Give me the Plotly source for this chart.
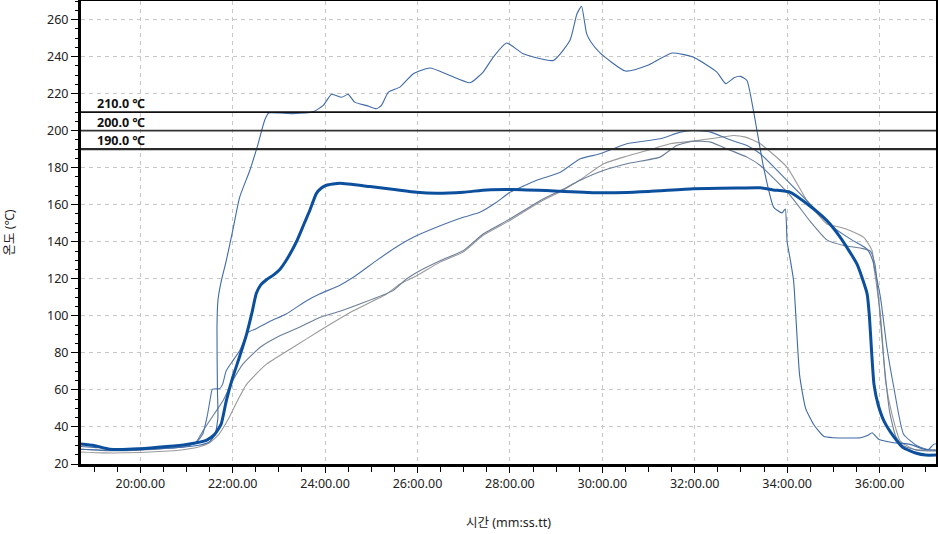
import plotly.graph_objects as go

# time in minutes, temperature in deg C
A_t = [18.71, 19.3, 20.0, 20.6, 21.0, 21.3, 21.5, 21.62, 21.68, 21.67, 21.66, 21.68, 21.73, 21.79, 21.86, 22.0, 22.15, 22.37, 22.55, 22.69,
       22.78, 23.0, 23.3, 23.74, 23.96, 24.14, 24.36, 24.5, 24.64, 24.9, 25.11, 25.22, 25.37, 25.62, 25.91, 26.27, 26.70, 27.14, 27.42,
       27.64, 27.93, 28.29, 28.94, 29.30, 29.45, 29.55, 29.62, 29.66, 29.75, 29.95, 30.5, 31.0, 31.51, 31.97, 32.48, 32.67, 32.85, 32.99,
       33.13, 33.27, 33.49, 33.71, 33.89, 33.96, 34.0, 34.07, 34.14, 34.2, 34.27, 34.4, 34.57, 34.79, 35.0, 35.59, 35.75, 35.84, 35.98,
       36.31, 36.66, 36.96, 37.07, 37.17, 37.23]
A_v = [28.0, 27.5, 27.8, 28.5, 29.3, 30.3, 32, 36, 45, 60, 93.7, 108, 116, 122.6, 129.7, 146, 164, 178.5, 192.9, 205.5,
       209.5, 209.5, 209.2, 210.2, 213.6, 219.6, 218.0, 219.6, 215.4, 213.5, 211.8, 213.6, 220.8, 223.5, 230.7, 233.8, 229.8, 225.9, 231.6,
       239.7, 247.3, 241.5, 237.9, 248.8, 263, 267.2, 258, 252.4, 248, 242, 232.2, 235.5, 241.9, 239.7, 231.6, 225.4, 228.5, 229.3,
       227.1, 210.9, 180.2, 158.6, 155.6, 157.7, 140, 130, 119, 95, 68, 50, 41.5, 35, 34.2, 34.2, 35.5, 36.9, 33.4,
       31.5, 30.6, 28, 28, 30.6, 31]

B_t = [18.71, 19.0, 19.4, 20.0, 20.6, 21.0, 21.2, 21.35, 21.45, 21.52, 21.56, 21.72, 21.78, 21.86, 22.0, 22.15, 22.33, 22.51, 22.8,
       23.16, 23.6, 23.88, 24.32, 24.61, 25.11, 25.5, 25.91, 26.41, 26.99, 27.35, 27.71, 28.0, 28.58, 29.09, 29.52, 29.95, 30.53,
       31.25, 31.69, 31.97, 32.34, 32.78, 33.13, 33.42, 34.0, 34.57, 35.0, 35.4, 35.73, 35.85, 36.02, 36.16, 36.31, 36.52, 36.8,
       37.02, 37.23]
B_v = [29.5, 29.0, 28.2, 28.5, 29.0, 30.0, 31.5, 36, 46, 56, 60.4, 60.7, 63, 70.3, 75.7, 81.1, 91, 93, 97,
       101, 108.2, 111.8, 116.5, 120.8, 129.8, 136.5, 142.4, 147.8, 153.2, 155.9, 161.3, 166.7, 173.2, 177.5, 184.8, 187.5, 192.9,
       195.6, 199.2, 200.1, 199.2, 194.9, 192, 187.5, 173, 158.6, 147.8, 141, 136, 130, 110, 82.9, 61.3, 36.1, 30,
       28, 27.5]

C_t = [18.71, 19.3, 20.0, 20.6, 21.0, 21.2, 21.36, 21.6, 21.79, 22.0, 22.22, 22.59, 23.02, 23.5, 23.88, 24.32, 24.75, 25.47,
       25.76, 26.05, 26.49, 26.99, 27.42, 28.0, 28.65, 29.09, 29.52, 30.02, 30.6, 31.25, 31.61, 31.97, 32.34, 32.78, 33.13, 33.42,
       34.07, 34.5, 34.86, 35.22, 35.6, 35.8, 35.9, 36.0, 36.1, 36.22, 36.35, 36.5, 36.8, 37.23]
C_v = [28.0, 27.2, 27.5, 28.5, 29.5, 31.5, 38, 47, 54.1, 64.9, 73.9, 82.9, 89.2, 94.5, 99.1, 102.5, 106.4, 113.6,
       119.9, 124.4, 129.8, 135.2, 144.2, 152.3, 162.2, 167.6, 173.2, 178.5, 182.5, 185.7, 192, 194.3, 193.8, 189.3, 185.7, 181.2,
       164.9, 151, 141, 138, 136.5, 135, 128, 103, 74, 48, 35, 30, 27.5, 27]

D_t = [18.71, 19.2, 20.0, 20.6, 21.0, 21.3, 21.5, 21.7, 21.9, 22.1, 22.3, 22.73, 23.3, 23.88, 24.61, 25.33, 25.62, 25.98, 26.49,
       26.99, 27.42, 28.0, 28.65, 29.09, 29.52, 30.02, 30.5, 31.0, 31.47, 32.0, 32.5, 32.84, 33.1, 33.42, 34.0, 34.43, 34.86, 35.15,
       35.37, 35.66, 35.84, 35.88, 36.02, 36.13, 36.27, 36.45, 36.74, 37.23]
D_v = [26.5, 26.0, 26.2, 27, 28, 29.5, 31.5, 36, 44, 54, 63, 73.9, 82.9, 91.9, 102.7, 111.8, 117.2, 121.7, 129,
       134.5, 143.5, 151.5, 161.5, 167, 173.5, 182, 186, 189.5, 192.9, 194.5, 196.2, 197.4, 196.5, 192.9, 180.2, 162.2, 149.6, 147.8,
       146, 142.4, 135.2, 126.2, 101, 64.9, 46.8, 32.4, 28, 27.5]

F_t = [18.71, 19.0, 19.34, 20.0, 20.57, 21.0, 21.43, 21.61, 21.75, 21.86, 22.0, 22.15, 22.3, 22.42, 22.51, 22.6, 22.73, 22.88,
       23.02, 23.16, 23.38, 23.55, 23.67, 23.81, 23.92, 24.03, 24.32, 24.97, 25.5, 25.98, 26.41, 27.0, 27.5, 28.07, 29.09, 30.02,
       31.0, 31.97, 33.0, 33.42, 33.70, 34.07, 34.43, 34.86, 35.15, 35.51, 35.73, 35.78, 35.83, 35.88, 35.97, 36.1, 36.3, 36.5,
       36.8, 37.0, 37.23]
F_v = [30.8, 30.0, 28.0, 28.2, 29.4, 30.6, 32.8, 36, 41.5, 54, 66.7, 78, 90, 102, 112, 116.5, 119.5, 122,
       125, 130, 140, 150, 157, 166, 169, 170.5, 171.6, 169.8, 168.2, 166.7, 166.2, 166.8, 168, 168.2, 167.3, 166.4,
       167.2, 168.6, 169, 169.1, 168, 166.7, 160.5, 151.4, 142.4, 128, 112, 100, 80, 63, 52, 43, 35, 29,
       25.8, 24.8, 24.8]

limit_values = [210, 200, 190]
limit_labels = ["210.0 ℃", "200.0 ℃", "190.0 ℃"]
limit_colors = ["#111111", "#333333", "#2a2a2a"]
limit_widths = [1.6, 1.8, 2.2]

x_tickvals = [20, 22, 24, 26, 28, 30, 32, 34, 36]
x_ticktext = ["20:00.00", "22:00.00", "24:00.00", "26:00.00", "28:00.00",
              "30:00.00", "32:00.00", "34:00.00", "36:00.00"]

FONT = "Noto Sans, Noto Sans CJK KR, sans-serif"

fig = go.Figure()

thin = [(D_t, D_v, "#9a9a9a"), (C_t, C_v, "#6b7f9b"), (B_t, B_v, "#4d72a8"), (A_t, A_v, "#3f6aa6")]
for t, v, c in thin:
    fig.add_trace(go.Scatter(x=t, y=v, mode="lines",
                             line=dict(color=c, width=1.1, shape="spline", smoothing=0.5),
                             hoverinfo="skip"))
fig.add_trace(go.Scatter(x=F_t, y=F_v, mode="lines",
                         line=dict(color="#0c4f9c", width=3, shape="spline", smoothing=0.5),
                         hoverinfo="skip"))

for val, lab, col, w in zip(limit_values, limit_labels, limit_colors, limit_widths):
    fig.add_shape(type="line", xref="paper", x0=0, x1=1, yref="y", y0=val, y1=val,
                  line=dict(color=col, width=w), layer="above")
    fig.add_annotation(xref="paper", x=0.0165, yref="y", y=val, text="<b>" + lab + "</b>",
                       showarrow=False, xanchor="left", yanchor="bottom", yshift=-2,
                       font=dict(family=FONT, size=12.5, color="#111111"))

fig.update_layout(
    width=938, height=534,
    margin=dict(l=81, r=2, t=1, b=70, autoexpand=False),
    plot_bgcolor="white", paper_bgcolor="white",
    showlegend=False,
    font=dict(family=FONT, size=12, color="#222222"),
)
fig.update_xaxes(
    range=[18.717, 37.222], automargin=False,
    showline=True, linecolor="black", linewidth=3, mirror=True,
    ticks="outside", ticklen=6, tickwidth=1, tickcolor="black",
    tickvals=x_tickvals, ticktext=x_ticktext,
    showgrid=True, gridcolor="#c8c8c8", gridwidth=1, griddash="4px,4px",
    minor=dict(dtick=0.5, tick0=20, ticks="outside", ticklen=5, tickcolor="black", showgrid=False),
    zeroline=False, tickfont=dict(size=12.5),
    title=dict(text="시간 (mm:ss.tt)", standoff=28, font=dict(family=FONT, size=12.5, color="#222222")),
)
fig.update_yaxes(
    range=[20, 270], automargin=False,
    showline=True, linecolor="black", linewidth=3, mirror=True,
    ticks="outside", ticklen=7, tickwidth=1, tickcolor="black",
    tick0=20, dtick=20,
    showgrid=True, gridcolor="#c8c8c8", gridwidth=1, griddash="4px,4px",
    minor=dict(dtick=5, tick0=20, ticks="outside", ticklen=3, tickcolor="black", showgrid=False),
    zeroline=False, tickfont=dict(size=12.5),
    title=dict(text="온도 (℃)", standoff=30, font=dict(family=FONT, size=12.5, color="#222222")),
)

post = ("document.body.style.margin='0px';document.body.style.overflow='hidden';"
        "var gd=document.getElementById('{plot_id}');"
        "Plotly.relayout(gd,{width:938,height:534});")
fig.write_html("out.html", config={"responsive": False, "displayModeBar": False}, post_script=post)
